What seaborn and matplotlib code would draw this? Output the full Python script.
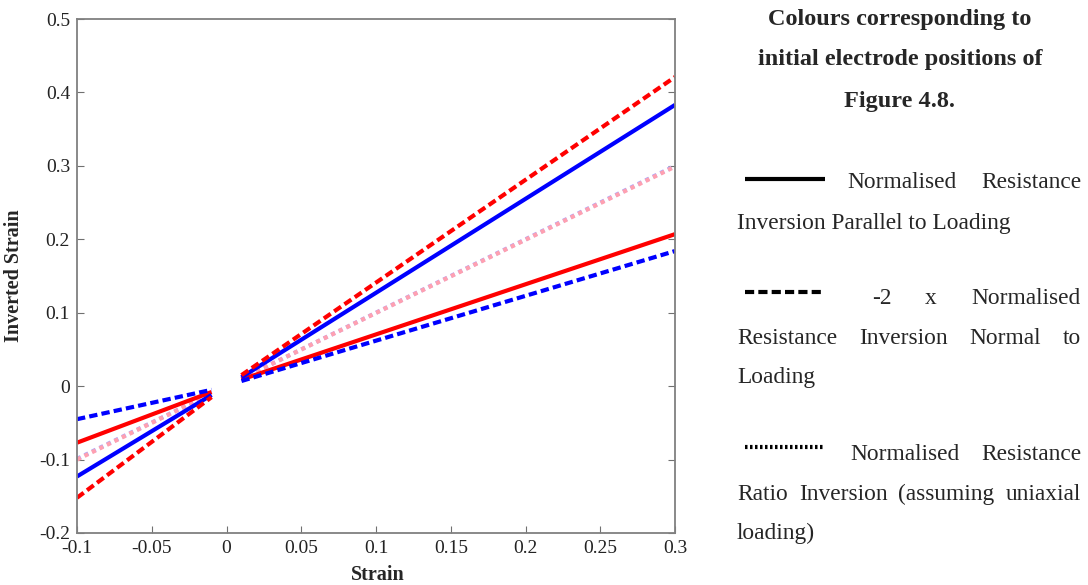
import matplotlib
matplotlib.use('Agg')
import matplotlib.pyplot as plt
import seaborn as sns
import pandas as pd

# strain ranges of the two segments (gap around zero)
strain_left = [-0.1, -0.01]
strain_right = [0.01, 0.3]

# inverted strain, [left segment], [right segment]
red_dashed = ([-0.152, -0.015], [0.015, 0.421])
blue_solid = ([-0.123, -0.012], [0.012, 0.383])
pink_dotted = ([-0.100, -0.010], [0.010, 0.299])
blue_dotted = ([-0.099, -0.010], [0.010, 0.300])
red_solid = ([-0.077, -0.008], [0.009, 0.207])
blue_dashed = ([-0.045, -0.005], [0.007, 0.184])

series = [
    ('blue_dotted', blue_dotted, '#a8a8ff', (0, (1, 1))),
    ('pink_dotted', pink_dotted, '#ffa0b0', (0, (1, 1))),
    ('red_solid', red_solid, '#ff0000', '-'),
    ('blue_solid', blue_solid, '#0000ff', '-'),
    ('red_dashed', red_dashed, '#ff0000', (0, (2, 1))),
    ('blue_dashed', blue_dashed, '#0000ff', (0, (2, 1))),
]

sns.set_style('white')
plt.rcParams['font.family'] = ['Liberation Serif', 'DejaVu Serif']

fig = plt.figure(figsize=(10.88, 5.85), dpi=100)
ax = fig.add_axes([0.0708, 0.0889, 0.5496, 0.8786])

for name, (yl, yr), color, ls in series:
    for xs, ys in ((strain_left, yl), (strain_right, yr)):
        df = pd.DataFrame({'Strain': xs, 'Inverted Strain': ys})
        sns.lineplot(data=df, x='Strain', y='Inverted Strain', ax=ax,
                     color=color, linestyle=ls, linewidth=3.0,
                     solid_capstyle='butt', dash_capstyle='butt')

ax.set_xlim(-0.1, 0.3)
ax.set_ylim(-0.2, 0.5)
ax.set_xticks([-0.1, -0.05, 0, 0.05, 0.1, 0.15, 0.2, 0.25, 0.3])
ax.set_xticklabels(['-0.1', '-0.05', '0', '0.05', '0.1', '0.15', '0.2', '0.25', '0.3'])
ax.set_yticks([-0.2, -0.1, 0, 0.1, 0.2, 0.3, 0.4, 0.5])
ax.set_yticklabels(['-0.2', '-0.1', '0', '0.1', '0.2', '0.3', '0.4', '0.5'])
ax.tick_params(direction='in', length=5, color='#707070', labelsize=14,
               labelcolor='#222222', left=True, bottom=True, right=True,
               top=False, pad=5)
for sp in ax.spines.values():
    sp.set_color('#808080')
    sp.set_linewidth(1.3)
ax.set_xlabel('Strain', fontsize=14.5, fontweight='bold')
ax.set_ylabel('Inverted Strain', fontsize=14.5, fontweight='bold')
ax.xaxis.set_label_coords(0.503, -0.062)
ax.yaxis.set_label_coords(-0.088, 0.5)

# right hand annotation panel
W, H = 1088.0, 585.0
TXT = 16.8

def put(x, y, s, ha='left', size=TXT, **kw):
    return fig.text(x / W, 1 - y / H, s, ha=ha, va='center', fontsize=size, **kw)

def justify(y, words, x0=737, x1=1081):
    # spread the words over the full column width, like the justified text
    texts = [put(x0, y, w) for w in words]
    r = fig.canvas.get_renderer()
    widths = [t.get_window_extent(r).width for t in texts]
    gap = (x1 - x0 - sum(widths)) / (len(words) - 1)
    x = x0
    for t, w in zip(texts, widths):
        t.set_x(x / W)
        x += w + gap

put(900, 19, 'Colours corresponding to', ha='center', fontweight='bold', size=17.5)
put(900, 60, 'initial electrode positions of', ha='center', fontweight='bold', size=17.5)
put(900, 101, 'Figure 4.8.', ha='center', fontweight='bold', size=17.5)

def sample(y, ls):
    fig.add_artist(plt.Line2D([745 / W, 825 / W], [1 - y / H] * 2, color='black',
                              linestyle=ls, linewidth=3, solid_capstyle='butt'))

sample(179, '-')
put(847, 183, 'Normalised')
put(1081, 183, 'Resistance', ha='right')
put(737, 224, 'Inversion Parallel to Loading')

sample(292, (0, (2.2, 1)))
put(872, 298, '-2')
put(925, 298, 'x')
put(1081, 298, 'Normalised', ha='right')
justify(338, ['Resistance', 'Inversion', 'Normal', 'to'])
put(737, 377, 'Loading')

sample(447, (0, (0.6, 0.6)))
put(850, 454, 'Normalised')
put(1081, 454, 'Resistance', ha='right')
justify(494, ['Ratio', 'Inversion', '(assuming', 'uniaxial'])
put(737, 533, 'loading)')

fig.savefig('out.png', dpi=100)
